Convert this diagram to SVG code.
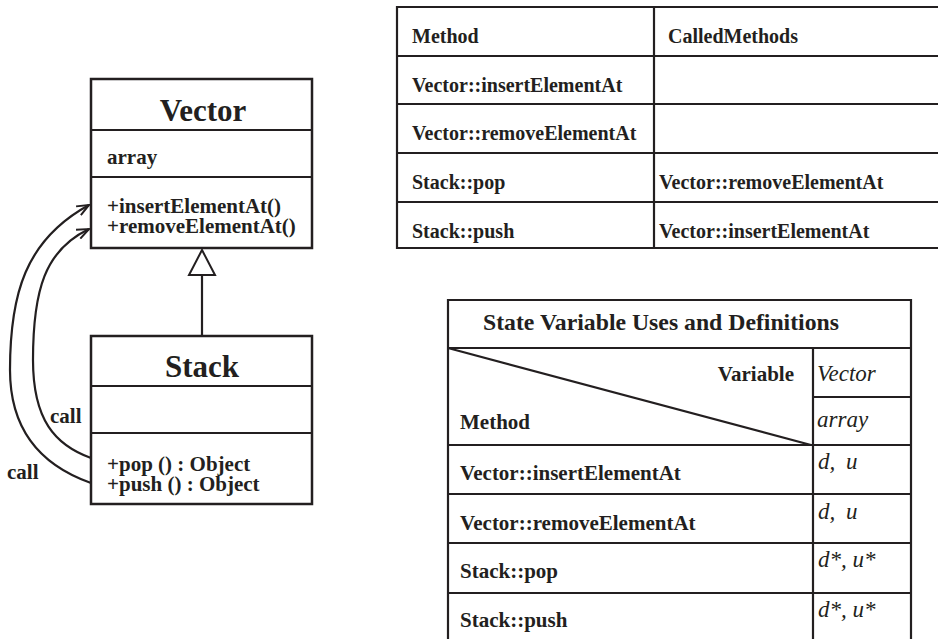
<svg xmlns="http://www.w3.org/2000/svg" width="938" height="639" viewBox="0 0 938 639">
<style>
.ln{stroke:#231f20;stroke-width:2.2;fill:none}
.box{stroke:#231f20;stroke-width:2.5;fill:#fff}
.t{font-family:"Liberation Serif","Times New Roman",serif;font-weight:bold;fill:#231f20}
.title{font-size:31px;text-anchor:middle}
.b20{font-size:20px}
.b21{font-size:21px}
.it{font-family:"Liberation Serif","Times New Roman",serif;font-style:italic;font-size:23px;fill:#231f20}
</style>
<defs>
<marker id="open" viewBox="0 0 14 12" refX="13" refY="6" markerWidth="14" markerHeight="12" orient="auto" markerUnits="userSpaceOnUse">
<path d="M1,1 L13,6 L1,11" fill="none" stroke="#231f20" stroke-width="2"/>
</marker>
</defs>
<rect width="938" height="639" fill="#fff"/>

<g id="vector">
<rect class="box" x="91" y="79" width="221" height="169"/>
<line class="ln" x1="91" y1="130" x2="312" y2="130"/>
<line class="ln" x1="91" y1="177" x2="312" y2="177"/>
<text class="t title" x="203" y="121">Vector</text>
<text class="t b21" x="107" y="164">array</text>
<text class="t b21" x="107" y="213">+insertElementAt()</text>
<text class="t b21" x="107" y="233">+removeElementAt()</text>
</g>

<g id="stack">
<rect class="box" x="91" y="336" width="221" height="168"/>
<line class="ln" x1="91" y1="386" x2="312" y2="386"/>
<line class="ln" x1="91" y1="433" x2="312" y2="433"/>
<text class="t title" x="202" y="377">Stack</text>
<text class="t b21" x="107" y="471">+pop () : Object</text>
<text class="t b21" x="107" y="491">+push () : Object</text>
</g>

<g id="connectors">
<line class="ln" x1="202" y1="336" x2="202" y2="275"/>
<polygon points="202,250 189,275 215,275" fill="#fff" stroke="#231f20" stroke-width="2"/>
<path class="ln" d="M91,483 C40,465 10,430 10,370 C10,295 25,240 89,205" marker-end="url(#open)"/>
<path class="ln" d="M91,458 C55,445 33,420 33,360 C33,290 45,250 89,229" marker-end="url(#open)"/>
<text class="t b21" x="50" y="423">call</text>
<text class="t b21" x="7" y="479">call</text>
</g>

<g id="calledTable">
<line class="ln" x1="397" y1="7" x2="938" y2="7"/>
<line class="ln" x1="397" y1="56" x2="938" y2="56"/>
<line class="ln" x1="397" y1="104" x2="938" y2="104"/>
<line class="ln" x1="397" y1="153" x2="938" y2="153"/>
<line class="ln" x1="397" y1="202" x2="938" y2="202"/>
<line class="ln" x1="397" y1="248" x2="938" y2="248"/>
<line class="ln" x1="397" y1="6" x2="397" y2="249"/>
<line class="ln" x1="654" y1="7" x2="654" y2="248"/>
<text class="t b20" x="412" y="43">Method</text>
<text class="t b20" x="668" y="43">CalledMethods</text>
<text class="t b20" x="412" y="92">Vector::insertElementAt</text>
<text class="t b20" x="412" y="140">Vector::removeElementAt</text>
<text class="t b20" x="412" y="189">Stack::pop</text>
<text class="t b20" x="659" y="189">Vector::removeElementAt</text>
<text class="t b20" x="412" y="238">Stack::push</text>
<text class="t b20" x="659" y="238">Vector::insertElementAt</text>
</g>

<g id="stateTable">
<line class="ln" x1="448" y1="300" x2="911" y2="300"/>
<line class="ln" x1="448" y1="348" x2="911" y2="348"/>
<line class="ln" x1="813" y1="397" x2="911" y2="397"/>
<line class="ln" x1="448" y1="445" x2="911" y2="445"/>
<line class="ln" x1="448" y1="494" x2="911" y2="494"/>
<line class="ln" x1="448" y1="543" x2="911" y2="543"/>
<line class="ln" x1="448" y1="593" x2="911" y2="593"/>
<line class="ln" x1="448" y1="299" x2="448" y2="639"/>
<line class="ln" x1="911" y1="299" x2="911" y2="639"/>
<line class="ln" x1="813" y1="348" x2="813" y2="639"/>
<line class="ln" x1="448" y1="348" x2="811" y2="445"/>
<text class="t" x="483" y="330" font-size="23" textLength="356" lengthAdjust="spacingAndGlyphs">State Variable Uses and Definitions</text>
<text class="t b21" x="794" y="381" text-anchor="end">Variable</text>
<text class="t b21" x="460" y="429">Method</text>
<text class="it" x="817" y="381">Vector</text>
<text class="it" x="817" y="427">array</text>
<text class="t b21" x="460" y="480">Vector::insertElementAt</text>
<text class="t b21" x="460" y="530">Vector::removeElementAt</text>
<text class="t b21" x="460" y="578">Stack::pop</text>
<text class="t b21" x="460" y="627">Stack::push</text>
<text class="it" x="818" y="469" style="word-spacing:5px">d, u</text>
<text class="it" x="818" y="519" style="word-spacing:5px">d, u</text>
<text class="it" x="818" y="567">d*, u*</text>
<text class="it" x="818" y="617">d*, u*</text>
</g>
</svg>
